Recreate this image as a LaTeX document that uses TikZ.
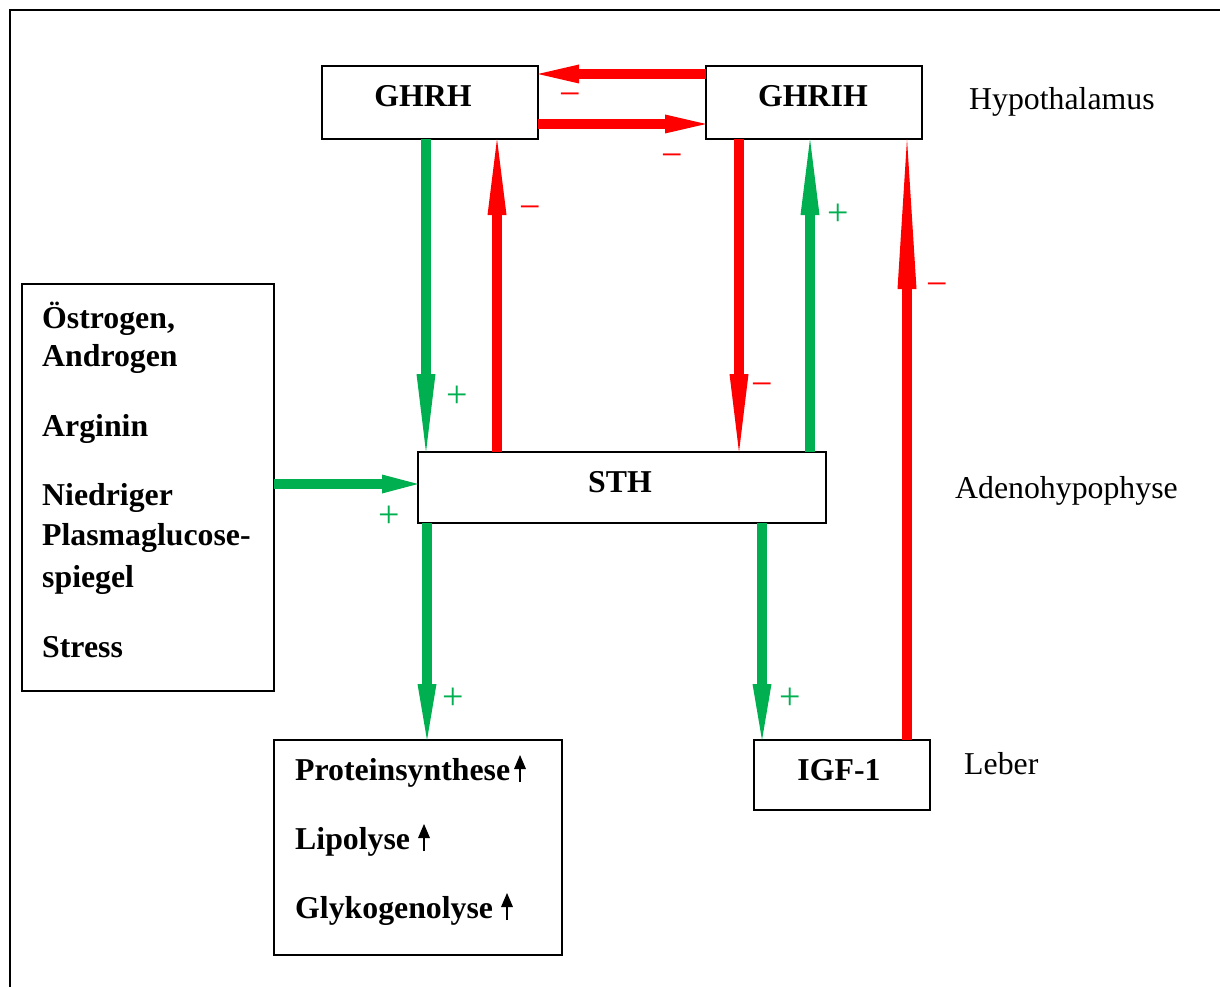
\documentclass[tikz,border=0pt]{standalone}
\usepackage{fontspec}
\setmainfont{Liberation Serif}
\usetikzlibrary{arrows.meta}
\definecolor{ored}{HTML}{FF0000}
\definecolor{ogreen}{HTML}{00B050}
\begin{document}
\begin{tikzpicture}[x=1pt,y=-1pt,
  box/.style={draw=black, line width=2pt, inner sep=0pt, outer sep=0pt, fill=white},
  blbl/.style={font=\fontsize{31.8}{38}\selectfont\bfseries, inner sep=0pt, anchor=base},
  ltxt/.style={font=\fontsize{31.8}{38}\selectfont\bfseries, inner sep=0pt, anchor=base west},
  rtxt/.style={font=\fontsize{31.8}{38}\selectfont, inner sep=0pt, anchor=base west},
  sgn/.style={font=\fontsize{38}{44}\selectfont, inner sep=0pt},
  mns/.style={sgn, text=ored, yshift=-7pt},
  pls/.style={sgn, text=ogreen, yshift=-2pt},
  harr/.style={line width=10pt, -{Triangle[length=#1, width=19pt, line width=0pt]}},
  uparr/.style={line width=2.4pt, -{Triangle[length=14pt, width=12pt, line width=0pt]}}
]
\useasboundingbox (0,0) rectangle (1220,987);
% frame
\draw[line width=1.5pt] (10,1000) -- (10,10);
\draw[line width=2.5pt] (9.25,10) -- (1230,10);

% boxes
\node[box, minimum width=216pt, minimum height=73pt] (ghrh) at (430,102.5) {};
\node[box, minimum width=216pt, minimum height=73pt] (ghrih) at (814,102.5) {};
\node[box, minimum width=408pt, minimum height=71pt] (sth) at (622,487.5) {};
\node[box, minimum width=252pt, minimum height=407pt] (left) at (148,487.5) {};
\node[box, minimum width=288pt, minimum height=215pt] (prot) at (418,847.5) {};
\node[box, minimum width=176pt, minimum height=70pt] (igf) at (842,775) {};

% box labels
\node[blbl] (tghrh) at (423,107) {GHRH};
\node[blbl] (tghrih) at (813,107) {GHRIH};
\node[blbl] (tsth) at (620,492) {STH};
\node[blbl] (tigf) at (839,780) {IGF-1};

% left box text
\node[ltxt] (l1) at (42,328) {Östrogen,};
\node[ltxt] (l2) at (42,366) {Androgen};
\node[ltxt] (l3) at (42,436) {Arginin};
\node[ltxt] (l4) at (42,505) {Niedriger};
\node[ltxt] (l5) at (42,545) {Plasmaglucose-};
\node[ltxt] (l6) at (42,587) {spiegel};
\node[ltxt] (l7) at (42,657) {Stress};

% effects box text
\node[ltxt] (p1) at (295,780) {Proteinsynthese};
\node[ltxt] (p2) at (295,849) {Lipolyse};
\node[ltxt] (p3) at (295,918) {Glykogenolyse};
\draw[uparr] (520,782) -- (520,755);
\draw[uparr] (424,851) -- (424,824);
\draw[uparr] (507,920) -- (507,893);

% region labels
\node[rtxt] (hyp) at (969,110) {Hypothalamus};
\node[rtxt] (adh) at (955,498) {Adenohypophyse};
\node[rtxt] (leb) at (964,774) {Leber};

% arrows
\draw[ored, harr=41pt] (ghrih.west |- 0,74) -- (ghrh.east |- 0,74);
\draw[ored, harr=41pt] (ghrh.east |- 0,124) -- (ghrih.west |- 0,124);
\draw[ogreen, harr=78pt] (ghrh.south -| 426,0) -- (sth.north -| 426,0);
\draw[ored, harr=76pt] (sth.north -| 497,0) -- (ghrh.south -| 497,0);
\draw[ored, harr=78pt] (ghrih.south -| 739,0) -- (sth.north -| 739,0);
\draw[ogreen, harr=76pt] (sth.north -| 810,0) -- (ghrih.south -| 810,0);
\draw[ored, harr=150pt] (igf.north -| 907,0) -- (ghrih.south -| 907,0);
\draw[ogreen, harr=36pt] (left.east |- 0,484) -- (sth.west |- 0,484);
\draw[ogreen, harr=56pt] (sth.south -| 427,0) -- (prot.north -| 427,0);
\draw[ogreen, harr=56pt] (sth.south -| 762,0) -- (igf.north -| 762,0);

% signs
\node[mns] (s1) at (570,93) {−};
\node[mns] (s2) at (672,154) {−};
\node[pls] (s3) at (457,395) {+};
\node[mns] (s4) at (530,206) {−};
\node[mns] (s5) at (762,383) {−};
\node[pls] (s6) at (838,213) {+};
\node[mns] (s7) at (937,283) {−};
\node[pls] (s8) at (389,515) {+};
\node[pls] (s9) at (453,697) {+};
\node[pls] (s10) at (790,697) {+};
\end{tikzpicture}
\end{document}
